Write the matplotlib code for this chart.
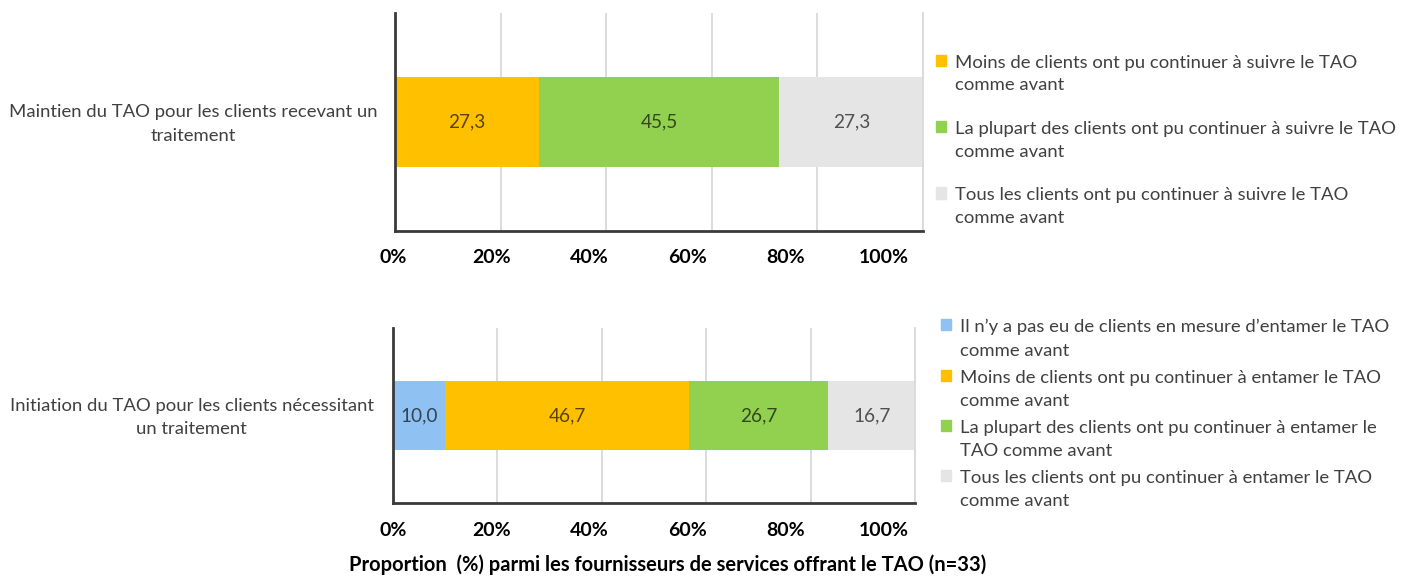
import matplotlib
matplotlib.use("Agg")
import matplotlib.pyplot as plt
import matplotlib.transforms as mtransforms
from matplotlib.patches import Patch

plt.rcParams['font.family'] = ['Lato', 'DejaVu Sans']

# ---- data ----
top_category = "Maintien du TAO pour les clients recevant un\ntraitement"
top_series = ["Moins de clients ont pu continuer à suivre le TAO\ncomme avant",
              "La plupart des clients ont pu continuer à suivre le TAO\ncomme avant",
              "Tous les clients ont pu continuer à suivre le TAO\ncomme avant"]
top_values = [27.3, 45.5, 27.3]
top_colors = ["#FFC000", "#92D050", "#E5E5E5"]

bottom_category = "Initiation du TAO pour les clients nécessitant\nun traitement"
bottom_series = ["Il n’y a pas eu de clients en mesure d’entamer le TAO\ncomme avant",
                 "Moins de clients ont pu continuer à entamer le TAO\ncomme avant",
                 "La plupart des clients ont pu continuer à entamer le\nTAO comme avant",
                 "Tous les clients ont pu continuer à entamer le TAO\ncomme avant"]
bottom_values = [10.0, 46.7, 26.7, 16.7]
bottom_colors = ["#8FC1F3", "#FFC000", "#92D050", "#E5E5E5"]

tick_values = [0, 20, 40, 60, 80, 100]
tick_labels = ["0%", "20%", "40%", "60%", "80%", "100%"]
x_title = "Proportion  (%) parmi les fournisseurs de services offrant le TAO (n=33)"

W, H = 1407, 581
FS = 13.3
fig = plt.figure(figsize=(W / 100, H / 100), dpi=100)


def px_axes(x0, y0, x1, y1):
    return fig.add_axes([x0 / W, 1 - y1 / H, (x1 - x0) / W, (y1 - y0) / H])


def draw_panel(ax, category, values, colors, bar_h):
    left = 0
    for v, c in zip(values, colors):
        ax.barh([0], [v], left=left, height=bar_h, color=c, edgecolor='none', zorder=2)
        ax.text(left + v / 2, 0, f"{v:.1f}".replace('.', ','), ha='center', va='center',
                fontsize=FS + 0.4, color='black', alpha=0.65, zorder=3)
        left += v
    ax.set_xlim(0, 100)
    ax.set_ylim(-0.5, 0.5)
    ax.set_xticks(tick_values)
    ax.tick_params(axis='x', length=0, labelbottom=False)
    ax.xaxis.grid(True, color='#D9D9D9', lw=1.3, zorder=0)
    ax.set_axisbelow(True)
    ax.set_yticks([0])
    ax.set_yticklabels([category], fontsize=FS, color='#404040', ha='center',
                       multialignment='center', linespacing=1.55)
    ax.tick_params(axis='y', length=0, pad=145)
    shift = mtransforms.ScaledTranslation(0, 3 / 100, fig.dpi_scale_trans)
    for lbl in ax.get_yticklabels():
        lbl.set_transform(lbl.get_transform() + shift)
    ax.spines['top'].set_visible(False)
    ax.spines['right'].set_color('#D9D9D9')
    ax.spines['right'].set_linewidth(1.3)
    for s in ['left', 'bottom']:
        ax.spines[s].set_color('#3A3A3A')
        ax.spines[s].set_linewidth(2)


def label_axis(x0, x1, y, pad):
    lab = px_axes(x0, y - 1, x1, y)
    lab.set_xlim(0, 100)
    lab.set_xticks(tick_values)
    lab.set_xticklabels(tick_labels, fontsize=14, fontweight='bold', color='black')
    lab.tick_params(axis='x', length=0, pad=pad)
    lab.set_yticks([])
    for s in lab.spines.values():
        s.set_visible(False)
    lab.patch.set_alpha(0)


ax1 = px_axes(395, 13, 923, 231)
draw_panel(ax1, top_category, top_values, top_colors, 0.41)
label_axis(393, 884, 231, 13)

ax2 = px_axes(393, 328, 915, 503)
draw_panel(ax2, bottom_category, bottom_values, bottom_colors, 0.39)
label_axis(393, 884, 503, 14)


def make_legend(handles_colors, labels, x, y, spacing, ls):
    leg = fig.legend([Patch(color=c) for c in handles_colors], labels,
                     loc='upper left', bbox_to_anchor=(x / W, 1 - y / H),
                     frameon=False, fontsize=FS, handlelength=0.55, handleheight=0.55,
                     handletextpad=0.5, labelspacing=spacing, borderpad=0, borderaxespad=0)
    for t in leg.get_texts():
        t.set_color('#404040')
        t.set_linespacing(ls)
    for col in leg._legend_handle_box.get_children():
        for item in col.get_children():
            item.align = 'top'
    return leg


make_legend(top_colors, top_series, 936, 55, 1.5, 1.5)
make_legend(bottom_colors, bottom_series, 941, 319, 0.6, 1.55)

fig.text(668 / W, 1 - 565 / H, x_title, ha='center', va='center', fontsize=14.5,
         fontweight='bold', color='black')

fig.savefig("out.png", dpi=100)
